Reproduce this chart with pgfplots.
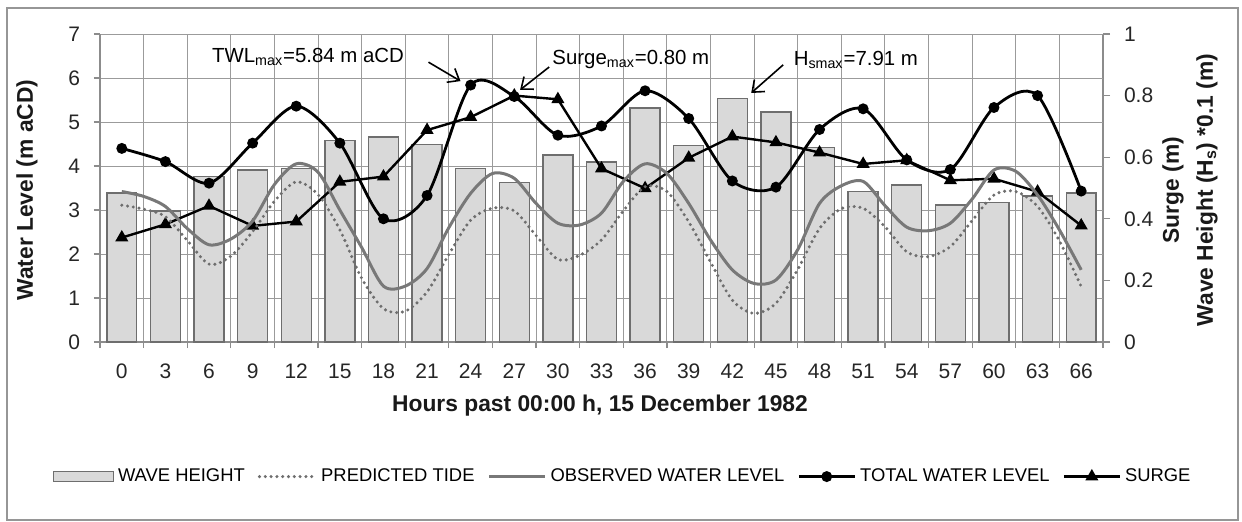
\documentclass[border=0pt]{standalone}
\usepackage{fontspec}
\setmainfont{Liberation Sans}
\usepackage{pgfplots}
\usepackage{pgfplotstable}
\pgfplotsset{compat=1.18}
\usetikzlibrary{arrows.meta}

\definecolor{gridgray}{RGB}{155,155,155}
\definecolor{axgray}{RGB}{140,140,140}
\definecolor{barfill}{RGB}{217,217,217}
\definecolor{bardraw}{RGB}{110,110,110}
\definecolor{linegray}{RGB}{120,120,120}
\definecolor{dotgray}{RGB}{110,110,110}
\definecolor{framegray}{RGB}{150,150,150}

% Wave height Hs*0.1 (m), right axis
\pgfplotstableread{
h wh
0 0.484
3 0.425
6 0.538
9 0.558
12 0.564
15 0.655
18 0.666
21 0.641
24 0.563
27 0.517
30 0.607
33 0.585
36 0.760
39 0.638
42 0.791
45 0.747
48 0.632
51 0.488
54 0.510
57 0.445
60 0.452
63 0.474
66 0.484
}\wavetable

% Surge (m), right axis
\pgfplotstableread{
h s
0 0.339
3 0.382
6 0.442
9 0.377
12 0.391
15 0.520
18 0.537
21 0.688
24 0.730
27 0.800
30 0.788
33 0.563
36 0.499
39 0.598
42 0.667
45 0.648
48 0.615
51 0.578
54 0.590
57 0.525
60 0.530
63 0.488
66 0.378
}\surgetable

% Total water level (m aCD)
\pgfplotstableread{
h twl
0 4.40
3 4.10
6 3.61
9 4.52
12 5.36
15 4.52
18 2.80
21 3.33
24 5.84
27 5.58
30 4.70
33 4.91
36 5.71
39 5.08
42 3.66
45 3.52
48 4.83
51 5.30
54 4.14
57 3.92
60 5.33
63 5.60
66 3.43
}\twltable

% Observed water level (m aCD)
\pgfplotstableread{
h obs
0 3.42
1.5 3.31
3 3.08
4.5 2.58
6 2.21
7.5 2.34
9 2.75
10.5 3.58
12 4.05
13.5 3.86
15 3.00
16.5 2.15
18 1.27
19.5 1.27
21 1.67
22.5 2.60
24 3.38
25.5 3.83
27 3.72
28.5 3.15
30 2.70
31.5 2.66
33 2.93
34.5 3.65
36 4.05
37.5 3.83
39 3.15
40.5 2.32
42 1.64
43.5 1.33
45 1.41
46.5 2.10
48 3.15
49.5 3.55
51 3.65
52.5 3.10
54 2.61
55.5 2.53
57 2.70
58.5 3.25
60 3.91
61.5 3.88
63 3.34
64.5 2.55
66 1.64
}\obstable

% Predicted tide (m aCD)
\pgfplotstableread{
h pred
0 3.11
1.5 3.02
3 2.85
4.5 2.31
6 1.77
7.5 1.95
9 2.51
10.5 3.20
12 3.64
13.5 3.35
15 2.55
16.5 1.45
18 0.76
19.5 0.70
21 1.14
22.5 1.99
24 2.77
25.5 3.04
27 2.98
28.5 2.42
30 1.88
31.5 1.97
33 2.32
34.5 2.98
36 3.53
37.5 3.42
39 2.73
40.5 1.82
42 0.95
43.5 0.65
45 0.88
46.5 1.65
48 2.58
49.5 3.03
51 3.04
52.5 2.62
54 2.05
55.5 1.94
57 2.17
58.5 2.76
60 3.34
61.5 3.42
63 3.08
64.5 2.30
66 1.26
}\predtable

\pgfplotsset{
  common/.style={
    scale only axis, width=501.5pt, height=154pt,
    at={(50pt,89.5pt)}, anchor=south west,
    xmin=-1.5, xmax=67.5,
    /pgf/number format/assume math mode=true,
    tick label style={font=\fontsize{10.5pt}{12pt}\selectfont, text=black!85},
    label style={font=\bfseries\fontsize{11.4pt}{13pt}\selectfont, text=black!90},
    axis line style={draw=axgray, line width=0.6pt},
    tick style={draw=axgray, line width=0.6pt},
    tick align=outside,
  },
  linelegend/.style={legend image code/.code={%
    \draw[mark repeat=2,mark phase=2,##1] plot coordinates {(0pt,0pt) (14pt,0pt) (28pt,0pt)};}},
  barlegend/.style={legend image code/.code={%
    \draw[##1] (0pt,-2.5pt) rectangle (30pt,2.5pt);}},
}

\begin{document}
\begin{tikzpicture}
\useasboundingbox (0,0) rectangle (621pt,260.5pt);
\draw[framegray, line width=1pt] (3.5pt,0.5pt) rectangle (619pt,256.5pt);

% ---------- axis A : right scale, grid, bars, surge ----------
\begin{axis}[common,
  ymin=0, ymax=1,
  axis y line*=right, axis x line*=bottom,
  xtick={0,3,...,66},
  major x tick style={draw=none},
  minor xtick={-1.5,1.5,...,67.5},
  xminorgrids=true,
  minor tick length=3pt,
  major tick length=3.5pt,
  ytick={0,0.2,0.4,0.6,0.8,1},
  yticklabel style={xshift=3.5pt},
  xticklabel style={yshift=-4pt},
  extra y ticks={0.142857,0.285714,0.428571,0.571429,0.714286,0.857143,1},
  extra y tick labels={},
  extra y tick style={ymajorgrids=true, major tick length=0pt},
  minor grid style={draw=gridgray, line width=0.5pt},
  major grid style={draw=gridgray, line width=0.5pt},
  xlabel={Hours past 00:00 h, 15 December 1982},
  xlabel style={at={(axis description cs:0.4985,-0.205)}, anchor=center},
  ylabel={Surge (m)\\[4pt]Wave Height (H\textsubscript{s}) *0.1 (m)},
  ylabel style={at={(axis description cs:1.0867,0.4935)}, anchor=center, align=center},
]
\addplot[ybar, bar width=2.06, fill=barfill, draw=bardraw, line width=0.7pt] table[x=h,y=wh]{\wavetable};
\addplot[black, line width=1.2pt, mark=triangle*, mark size=2.6pt] table[x=h,y=s]{\surgetable};
\end{axis}

% ---------- axis B : left scale, water levels ----------
\begin{axis}[common,
  ymin=0, ymax=7,
  axis y line*=left, axis x line=none,
  ytick={0,1,2,3,4,5,6,7},
  yticklabel style={xshift=-3.5pt},
  major tick length=3pt,
  ylabel={Water Level (m aCD)},
  ylabel style={at={(axis description cs:-0.0728,0.4935)}, anchor=center},
  legend columns=5,
  legend style={draw=none, fill=none, at={(0.522,-0.437)}, anchor=center,
    font=\fontsize{9.2pt}{10pt}\selectfont, inner sep=0pt,
    /tikz/every even column/.append style={column sep=4.5pt}},
  legend cell align=left,
]
\addlegendimage{fill=barfill, draw=bardraw, line width=0.7pt, barlegend}
\addlegendentry{WAVE HEIGHT}

\addplot[dotgray, line width=1.7pt, smooth, dash pattern=on 0pt off 2.9pt, line cap=round, linelegend]
  table[x=h,y=pred]{\predtable};
\addlegendentry{PREDICTED TIDE}

\addplot[linegray, line width=1.5pt, smooth, linelegend] table[x=h,y=obs]{\obstable};
\addlegendentry{OBSERVED WATER LEVEL}

\addplot[black, line width=1.4pt, smooth, mark=*, mark size=2pt, linelegend] table[x=h,y=twl]{\twltable};
\addlegendentry{TOTAL WATER LEVEL}

\addlegendimage{black, line width=1.2pt, mark=triangle*, mark size=2.6pt, linelegend}
\addlegendentry{SURGE}

% annotations
\node[anchor=west, inner sep=0pt, font=\fontsize{10.2pt}{12pt}\selectfont] at (axis cs:6.19,6.48) {TWL\textsubscript{max}=5.84 m aCD};
\draw[-{Straight Barb[length=5pt,width=8pt]}, line width=0.8pt] (axis cs:21.1,6.36) -- (axis cs:23.3,5.93);
\node[anchor=west, inner sep=0pt, font=\fontsize{10.2pt}{12pt}\selectfont] at (axis cs:29.6,6.41) {Surge\textsubscript{max}=0.80 m};
\draw[-{Straight Barb[length=5pt,width=8pt]}, line width=0.8pt] (axis cs:29.4,6.25) -- (axis cs:27.4,5.73);
\node[anchor=west, inner sep=0pt, font=\fontsize{10.2pt}{12pt}\selectfont] at (axis cs:46.2,6.41) {H\textsubscript{smax}=7.91 m};
\draw[-{Straight Barb[length=5pt,width=8pt]}, line width=0.8pt] (axis cs:45.5,6.30) -- (axis cs:43.3,5.66);
\end{axis}
\end{tikzpicture}
\end{document}
